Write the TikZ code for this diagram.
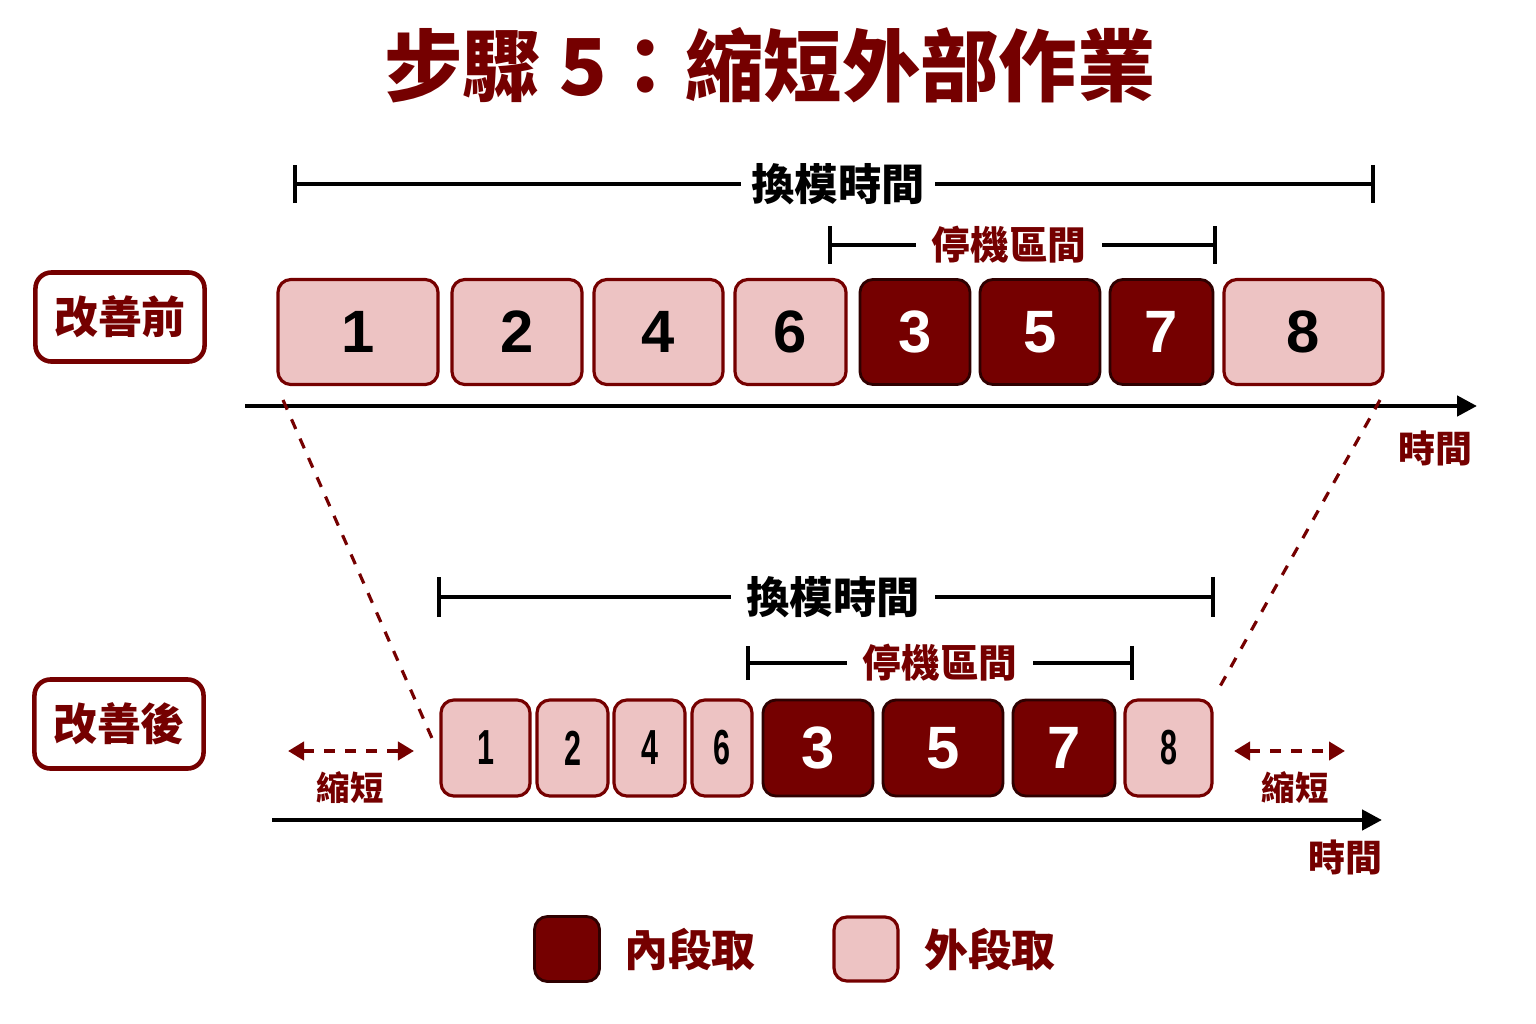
\documentclass[tikz,border=0pt]{standalone}
\usepackage{fontspec}
\setmainfont{Noto Sans CJK TC}
\newfontfamily\numfont{Liberation Sans}
\usepackage{graphicx}
\usetikzlibrary{arrows.meta}
\definecolor{darkred}{RGB}{117,0,0}
\definecolor{pinkfill}{RGB}{237,195,195}

\tikzset{
  inbox/.style={draw=black!60!darkred,fill=darkred,rounded corners=0.13cm,line width=0.8pt,
    text=white,font=\numfont\fontsize{17}{17}\selectfont\bfseries,inner sep=0pt},
  outbox/.style={draw=darkred,fill=pinkfill,rounded corners=0.13cm,line width=0.9pt,
    text=black,font=\numfont\fontsize{17}{17}\selectfont\bfseries,inner sep=0pt},
  toprow/.style={minimum height=1.05cm},
  botrow/.style={minimum height=0.96cm},
  tag/.style={draw=darkred,line width=1.3pt,rounded corners=0.16cm,text=darkred,
    font=\fontsize{12.5}{12.5}\selectfont\bfseries,minimum width=1.69cm,minimum height=0.89cm},
  span/.style={line width=1.2pt},
  spanlabel/.style={fill=white,inner xsep=0.1cm,font=\fontsize{12.3}{12.3}\selectfont\bfseries},
  axis/.style={line width=1.3pt,-{Triangle[length=0.2cm,width=0.2cm]}},
  cut/.style={darkred,dashed,line width=0.9pt},
  shrink/.style={darkred,dashed,line width=1.2pt,
    {Triangle[length=0.16cm,width=0.18cm]}-{Triangle[length=0.16cm,width=0.18cm]}},
  small/.style={text=darkred,font=\fontsize{9.5}{9.5}\selectfont\bfseries}
}
\newcommand{\narrow}[1]{\scalebox{0.62}[1]{\fontsize{14}{14}\selectfont #1}}

\begin{document}
\begin{tikzpicture}[x=0.01cm,y=-0.01cm]
\useasboundingbox (0,0) rectangle (1536,1024);

\node [text=darkred,font=\fontsize{22.3}{22.3}\selectfont\bfseries] (title) at (770,65) {步驟 5：縮短外部作業};

% before
\node [tag] (before) at (120,317) {改善前};

\node [outbox,toprow,minimum width=1.60cm] (b1) at (358,332) {1};
\node [outbox,toprow,minimum width=1.30cm] (b2) at (517,332) {2};
\node [outbox,toprow,minimum width=1.29cm] (b4) at (658.5,332) {4};
\node [outbox,toprow,minimum width=1.11cm] (b6) at (790.5,332) {6};
\node [inbox,toprow,minimum width=1.10cm] (b3) at (915,332) {3};
\node [inbox,toprow,minimum width=1.20cm] (b5) at (1040,332) {5};
\node [inbox,toprow,minimum width=1.03cm] (b7) at (1161.5,332) {7};
\node [outbox,toprow,minimum width=1.59cm] (b8) at (1303.5,332) {8};

\coordinate (ta) at (293,184);
\coordinate (tb) at (1375,184);
\draw [span,{Bar[width=0.38cm]}-{Bar[width=0.38cm]}] (ta) -- (tb);
\node [spanlabel] (tlabel) at (838,184) {換模時間};

\coordinate (sa) at (828,245);
\coordinate (sb) at (1217,245);
\draw [span,{Bar[width=0.37cm]}-{Bar[width=0.37cm]}] (sa) -- (sb);
\node [spanlabel,text=darkred,inner xsep=0.16cm,font=\fontsize{11}{11}\selectfont\bfseries] (slabel) at (1009,245) {停機區間};

\coordinate (xa) at (245,406);
\coordinate (xb) at (1477,406);
\draw [axis] (xa) -- (xb);
\node [small,font=\fontsize{10.5}{10.5}\selectfont\bfseries] (tx) at (1435,448) {時間};

% after
\node [tag] (after) at (119,724) {改善後};

\node [outbox,botrow,minimum width=0.89cm] (c1) at (485.5,748) {\narrow{1}};
\node [outbox,botrow,minimum width=0.71cm] (c2) at (572.5,748) {\narrow{2}};
\node [outbox,botrow,minimum width=0.71cm] (c4) at (649.5,748) {\narrow{4}};
\node [outbox,botrow,minimum width=0.60cm] (c6) at (722,748) {\narrow{6}};
\node [inbox,botrow,minimum width=1.10cm] (c3) at (818,748) {3};
\node [inbox,botrow,minimum width=1.20cm] (c5) at (943,748) {5};
\node [inbox,botrow,minimum width=1.02cm] (c7) at (1064,748) {7};
\node [outbox,botrow,minimum width=0.87cm] (c8) at (1168.5,748) {\narrow{8}};

\coordinate (ua) at (437,597);
\coordinate (ub) at (1215,597);
\draw [span,{Bar[width=0.40cm]}-{Bar[width=0.40cm]}] (ua) -- (ub);
\node [spanlabel,inner xsep=0.15cm] (ulabel) at (833,597) {換模時間};

\coordinate (va) at (746,663);
\coordinate (vb) at (1134,663);
\draw [span,{Bar[width=0.34cm]}-{Bar[width=0.34cm]}] (va) -- (vb);
\node [spanlabel,text=darkred,inner xsep=0.16cm,font=\fontsize{11}{11}\selectfont\bfseries] (vlabel) at (940,663) {停機區間};

\coordinate (ya) at (272,820);
\coordinate (yb) at (1382,820);
\draw [axis] (ya) -- (yb);
\node [small,font=\fontsize{10.5}{10.5}\selectfont\bfseries] (ty) at (1345,857) {時間};

% shortened ends
\coordinate (la) at (288,751);
\coordinate (lb) at (414,751);
\draw [shrink] (la) -- (lb);
\node [small] (lcut) at (350,788) {縮短};
\coordinate (ra) at (1234,751);
\coordinate (rb) at (1345,751);
\draw [shrink] (ra) -- (rb);
\node [small] (rcut) at (1295,788) {縮短};

\coordinate (p1) at (283,400);
\coordinate (p2) at (435,745);
\coordinate (q1) at (1380,400);
\coordinate (q2) at (1218,690);
\draw [cut] (p1) -- (p2);
\draw [cut] (q1) -- (q2);

% legend
\node [inbox,minimum width=0.65cm,minimum height=0.65cm] (kin) at (567,949) {};
\node [small,font=\fontsize{12.5}{12.5}\selectfont\bfseries] (tin) at (690,950) {內段取};
\node [outbox,minimum width=0.64cm,minimum height=0.64cm] (kout) at (866,949) {};
\node [small,font=\fontsize{12.5}{12.5}\selectfont\bfseries] (tout) at (990,950) {外段取};
\end{tikzpicture}
\end{document}
